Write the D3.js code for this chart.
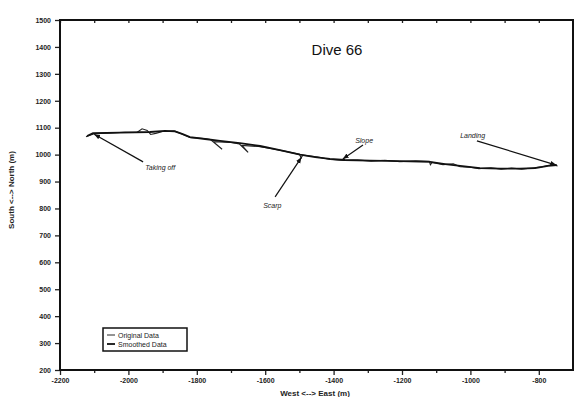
<!DOCTYPE html>
<html>
<head>
<meta charset="utf-8">
<script src="https://cdn.jsdelivr.net/npm/d3@7"></script>
<style>
	body { margin: 0; background: #fff; }
	svg { display: block; }
	.tick text { font-family: Arial, "Liberation Sans", sans-serif; font-size: 7px; font-weight: bold; fill: #222; }
</style>
</head>
<body>
<div class="chart"></div>
<script>
// DIVE 66 TRACK
// smoothed track, [east, north] in metres
const smoothed = [
	[-2121, 1069], [-2103, 1080], [-2025, 1082], [-1937, 1084], [-1893, 1088],
	[-1864, 1086], [-1843, 1077], [-1820, 1065], [-1776, 1058], [-1732, 1051],
	[-1674, 1043], [-1615, 1032], [-1557, 1017], [-1498, 1000], [-1454, 991],
	[-1411, 984], [-1367, 980], [-1294, 978], [-1206, 976], [-1118, 973],
	[-1074, 965], [-1030, 958], [-972, 950], [-913, 948], [-855, 948],
	[-811, 950], [-773, 958], [-747, 961]
];
// original (raw) track, with its excursions
const original = [
	[-2124, 1066], [-2100, 1078], [-2060, 1080], [-2010, 1083], [-1975, 1082],
	[-1960, 1096], [-1945, 1090], [-1935, 1075], [-1920, 1079], [-1900, 1086],
	[-1866, 1088], [-1840, 1075], [-1818, 1063], [-1780, 1060], [-1760, 1056],
	[-1726, 1020], [-1752, 1048], [-1700, 1045], [-1676, 1040], [-1650, 1008],
	[-1668, 1034], [-1620, 1030], [-1580, 1022], [-1540, 1012], [-1500, 1001],
	[-1495, 988], [-1490, 998], [-1450, 992], [-1410, 982], [-1370, 978],
	[-1330, 980], [-1290, 976], [-1250, 979], [-1206, 974], [-1160, 977],
	[-1120, 975], [-1117, 962], [-1112, 971], [-1080, 963], [-1050, 966],
	[-1030, 955], [-1000, 953], [-975, 948], [-940, 951], [-910, 946],
	[-880, 950], [-850, 946], [-815, 951], [-790, 955], [-760, 963],
	[-745, 958]
];
// annotations: label position and arrow [from, to], data units
const notes = [
	{ text: 'Taking off', at: [-1951, 943], from: [-1957, 973], to: [-2100, 1076] },
	{ text: 'Scarp', at: [-1606, 802], from: [-1571, 843], to: [-1494, 990] },
	{ text: 'Slope', at: [-1337, 1043], from: [-1314, 1036], to: [-1373, 984] },
	{ text: 'Landing', at: [-1030, 1062], from: [-981, 1051], to: [-749, 961] }
];
const xMajor = [-2200, -2000, -1800, -1600, -1400, -1200, -1000, -800];
const xMinor = [-2100, -1900, -1700, -1500, -1300, -1100, -900];
const yTicks = [200, 300, 400, 500, 600, 700, 800, 900, 1000, 1100, 1200, 1300, 1400, 1500];
const legendItems = ['Original Data', 'Smoothed Data'];

const margin = { top: 20, right: 4, bottom: 27, left: 60 };
const width = 577 - margin.left - margin.right;
const height = 397 - margin.top - margin.bottom;

const svg = d3.select('.chart')
	.append('svg')
		.attr('width', width + margin.left + margin.right)
		.attr('height', height + margin.top + margin.bottom)
	.append('g')
		.attr('transform', `translate(${margin.left}, ${margin.top})`);

const xScale = d3.scaleLinear().domain([-2200, -700]).range([0, width]);
const yScale = d3.scaleLinear().domain([200, 1500]).range([height, 0]);

// axes
const fmt = d => d;
svg.append('g')
	.attr('transform', `translate(0, ${height})`)
	.call(d3.axisBottom(xScale).tickValues(xMajor).tickFormat(fmt).tickSize(5).tickPadding(3))
	.call(g => g.select('.domain').remove());
svg.append('g')
	.attr('transform', `translate(0, ${height})`)
	.call(d3.axisBottom(xScale).tickValues(xMinor).tickFormat('').tickSize(3))
	.call(g => g.select('.domain').remove());
svg.append('g')
	.call(d3.axisTop(xScale).tickValues(xMajor.concat(xMinor)).tickFormat('').tickSize(-3))
	.call(g => g.select('.domain').remove());
svg.append('g')
	.call(d3.axisLeft(yScale).tickValues(yTicks).tickFormat(fmt).tickSize(5).tickPadding(4))
	.call(g => g.select('.domain').remove());

svg.selectAll('.tick line').attr('stroke', '#222').attr('stroke-width', 1.3);

// frame
svg.append('rect')
	.attr('width', width)
	.attr('height', height)
	.attr('fill', 'none')
	.attr('stroke', '#111')
	.attr('stroke-width', 2);

// axis titles
svg.append('text')
	.attr('x', 255)
	.attr('y', height + 26)
	.attr('text-anchor', 'middle')
	.style('font', 'bold 8px Arial, sans-serif')
	.style('fill', '#222')
	.text('West <--> East (m)');
svg.append('text')
	.attr('transform', `translate(-46, ${height / 2 - 5}) rotate(-90)`)
	.attr('text-anchor', 'middle')
	.style('font', 'bold 8px Arial, sans-serif')
	.style('fill', '#222')
	.text('South <--> North (m)');

// title
svg.append('text')
	.attr('x', xScale(-1390))
	.attr('y', 35)
	.attr('text-anchor', 'middle')
	.style('font', '15px Arial, "Liberation Sans", sans-serif')
	.style('fill', '#111')
	.text('Dive 66');

// tracks
const line = d3.line().x(d => xScale(d[0])).y(d => yScale(d[1]));
svg.append('path')
	.datum(original)
	.attr('d', line)
	.attr('fill', 'none')
	.attr('stroke', '#222')
	.attr('stroke-width', 1.1);
svg.append('path')
	.datum(smoothed)
	.attr('d', line)
	.attr('fill', 'none')
	.attr('stroke', '#111')
	.attr('stroke-width', 1.8)
	.attr('stroke-linejoin', 'round');

// arrows
svg.append('defs').append('marker')
	.attr('id', 'head')
	.attr('viewBox', '0 0 10 10')
	.attr('refX', 10)
	.attr('refY', 5)
	.attr('markerWidth', 6)
	.attr('markerHeight', 6)
	.attr('orient', 'auto')
	.attr('markerUnits', 'userSpaceOnUse')
	.append('path')
		.attr('d', 'M0,1L10,5L0,9Z')
		.attr('fill', '#111');

const ann = svg.selectAll('.note')
	.data(notes)
	.enter()
	.append('g')
	.attr('class', 'note');
ann.append('line')
	.attr('x1', d => xScale(d.from[0]))
	.attr('y1', d => yScale(d.from[1]))
	.attr('x2', d => xScale(d.to[0]))
	.attr('y2', d => yScale(d.to[1]))
	.attr('stroke', '#111')
	.attr('stroke-width', 1.2)
	.attr('marker-end', 'url(#head)');
ann.append('text')
	.attr('x', d => xScale(d.at[0]))
	.attr('y', d => yScale(d.at[1]))
	.style('font', 'italic 7px Arial, sans-serif')
	.style('fill', '#222')
	.text(d => d.text);

// legend
const legend = svg.append('g')
	.attr('transform', 'translate(43, 308)');
legend.append('rect')
	.attr('width', 84)
	.attr('height', 23)
	.attr('fill', '#fff')
	.attr('stroke', '#111')
	.attr('stroke-width', 1.5);
const item = legend.selectAll('.item')
	.data(legendItems)
	.enter()
	.append('g')
	.attr('transform', (d, i) => `translate(4, ${7 + i * 9})`);
item.append('line')
	.attr('x1', 0)
	.attr('x2', 8)
	.attr('stroke', '#111')
	.attr('stroke-width', (d, i) => i ? 1.8 : 0.9);
item.append('text')
	.attr('x', 11)
	.attr('y', 2.5)
	.style('font', '7px Arial, sans-serif')
	.style('fill', '#222')
	.text(d => d);
</script>
</body>
</html>
